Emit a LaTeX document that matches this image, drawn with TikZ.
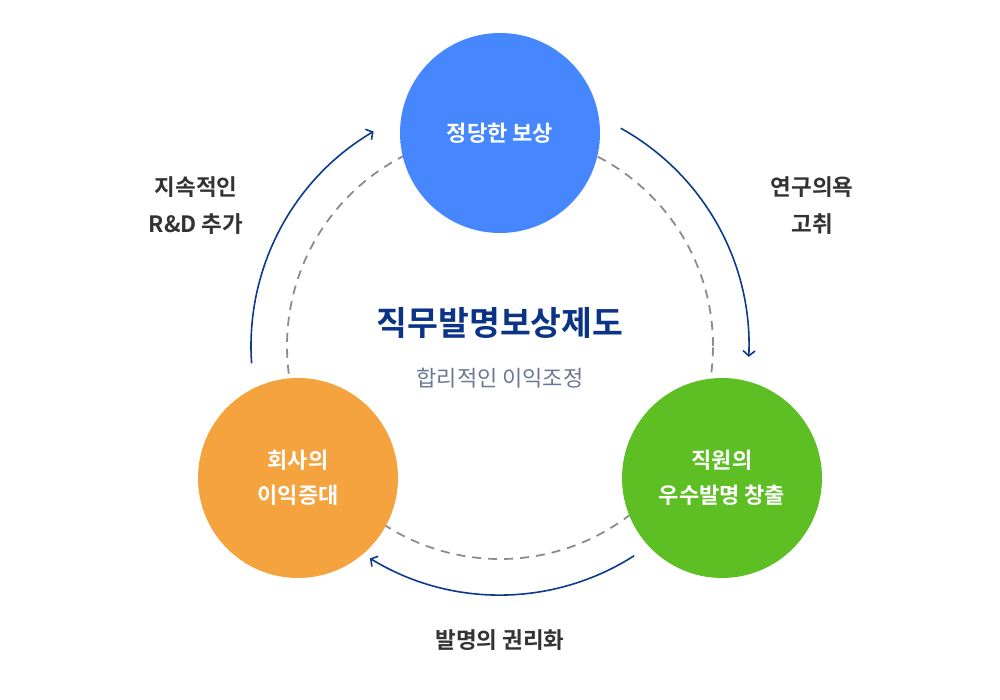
\documentclass[tikz,border=0pt]{standalone}
\usepackage{fontspec}
\setmainfont{Noto Sans CJK KR}[BoldFont={Noto Sans CJK KR Bold}]
\usepackage{xcolor}
\usetikzlibrary{arrows.meta, calc}
\definecolor{rewardblue}{HTML}{4687FF}
\definecolor{profitorange}{HTML}{F5A33F}
\definecolor{inventgreen}{HTML}{5DBF23}
\definecolor{titlenavy}{HTML}{0B3487}
\definecolor{arrownavy}{HTML}{0D3A8C}
\definecolor{subgray}{HTML}{6B7894}
\definecolor{labelgray}{HTML}{333333}
\definecolor{dashgray}{HTML}{8C8C8C}

\begin{document}
\begin{tikzpicture}[x=1pt, y=1pt,
    stage/.style={circle, minimum size=200pt, inner sep=0pt, text=white,
        font=\bfseries\fontsize{22}{35}\selectfont, align=center},
    cycle/.style={draw=arrownavy, line width=1.6pt,
        -{Straight Barb[length=5pt, width=12pt]}},
    steplabel/.style={text=labelgray, font=\bfseries\fontsize{22.5}{37}\selectfont, align=center}]

    % Canvas
    \useasboundingbox (0,0) rectangle (1000,700);
    \coordinate (mid) at (500,354);

    % Dashed guide circle behind the stages
    \draw[dashgray, line width=1.8pt, dash pattern=on 9pt off 7pt] (mid) circle[radius=213];

    % The three stages
    \node[stage, fill=rewardblue] (reward) at (500,567) {정당한 보상};
    \node[stage, fill=inventgreen] (invent) at (722,222) {직원의\\우수발명 창출};
    \node[stage, fill=profitorange] (profit) at (298,222) {회사의\\이익증대};

    % Title in the middle
    \node[text=titlenavy, font=\bfseries\fontsize{33.5}{40}\selectfont] (title) at (500,377) {직무발명보상제도};
    \node[text=subgray, font=\fontsize{22}{26}\selectfont] (subtitle) at (500,322) {합리적인 이익조정};

    % Cycle arrows on the outer ring
    \coordinate (motiv-s) at ($(mid)+(61:249)$);
    \draw[cycle] (motiv-s) arc[start angle=61, end angle=-2.5, radius=249];
    \coordinate (right-s) at ($(mid)+(-57.4:249)$);
    \draw[cycle] (right-s) arc[start angle=-57.4, end angle=-121.5, radius=249];
    \coordinate (rnd-s) at ($(mid)+(184:249)$);
    \draw[cycle] (rnd-s) arc[start angle=184, end angle=120.5, radius=249];

    % Labels beside the arrows
    \node[steplabel] (motiv) at (812,494) {연구의욕\\고취};
    \node[steplabel] (right) at (500,60) {발명의 권리화};
    \node[steplabel] (rnd) at (196,494) {지속적인\\R\&D 추가};

\end{tikzpicture}
\end{document}
